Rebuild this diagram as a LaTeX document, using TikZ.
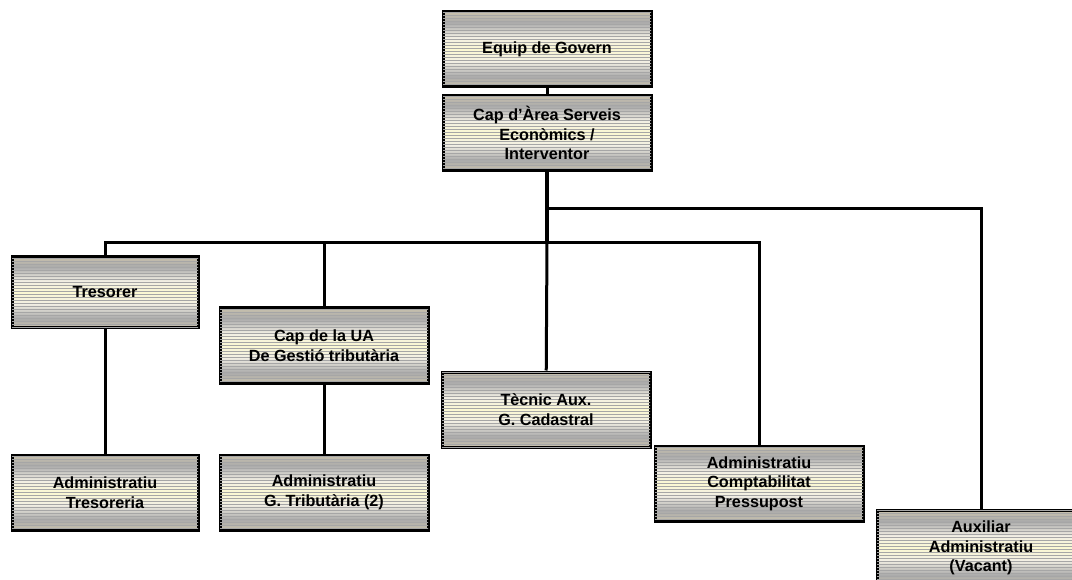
\documentclass[tikz,border=0pt]{standalone}
\usepackage{fontspec}
\setmainfont{Liberation Sans}
\usetikzlibrary{patterns}
\definecolor{boxtan}{HTML}{D6CBAE}
\definecolor{boxgray}{HTML}{727272}
\definecolor{boxlight}{HTML}{F2EFE4}
\definecolor{boxyellow}{HTML}{FBF8D2}
\pgfdeclareverticalshading{stripes}{100bp}{color(0bp)=(boxtan); color(10bp)=(boxgray); color(22bp)=(boxtan); color(32bp)=(boxgray!60); color(42bp)=(boxlight); color(50bp)=(boxyellow); color(58bp)=(boxlight); color(68bp)=(boxgray!60); color(78bp)=(boxtan); color(90bp)=(boxgray); color(100bp)=(boxtan)}
\begin{document}
\begin{tikzpicture}[x=1pt, y=-1pt,
  box/.style={draw, line width=3pt, shading=stripes,
    postaction={pattern=horizontal lines, pattern color=black!35},
    minimum width=208pt, minimum height=75pt, inner sep=0pt, align=center,
    font=\fontsize{16.2}{19.5}\selectfont\bfseries},
  narrow/.style={minimum width=186pt},
  link/.style={line width=3pt},
  trunk/.style={line width=4pt}]
\useasboundingbox (0,0) rectangle (1072,580);

\node (gv) [box] at (547,49.5) {Equip de Govern};
\node (ca) [box] at (547,133) {Cap d’Àrea Serveis\\Econòmics /\\Interventor};
\node (tr) [box, narrow, minimum height=71pt] at (105,292.5) {Tresorer};
\node (ua) [box] at (324,345.5) {Cap de la UA\\De Gestió tributària};
\node (tc) [box] at (546,409.5) {Tècnic Aux.\\G. Cadastral};
\node (at) [box, narrow] at (105,492.5) {Administratiu\\Tresoreria};
\node (ag) [box] at (324,492.5) {Administratiu\\G. Tributària (2)};
\node (cp) [box] at (759,483.5) {Administratiu\\Comptabilitat\\Pressupost};
\node (ax) [box] at (981,548) {Auxiliar\\Administratiu\\(Vacant)};

\coordinate (up) at (547,209);
\coordinate (bus) at (547,243);

\draw[link] (gv) -- (ca);
\draw[trunk] (ca) -- (bus);
\draw[link] (up) -| (ax);
\draw[link] (tr) |- (bus) -| (cp);
\draw[link] (ua) -- (ua |- bus);
\draw[link] (bus) -- (tc);
\draw[link] (tr) -- (at);
\draw[link] (ua) -- (ag);
\end{tikzpicture}
\end{document}
